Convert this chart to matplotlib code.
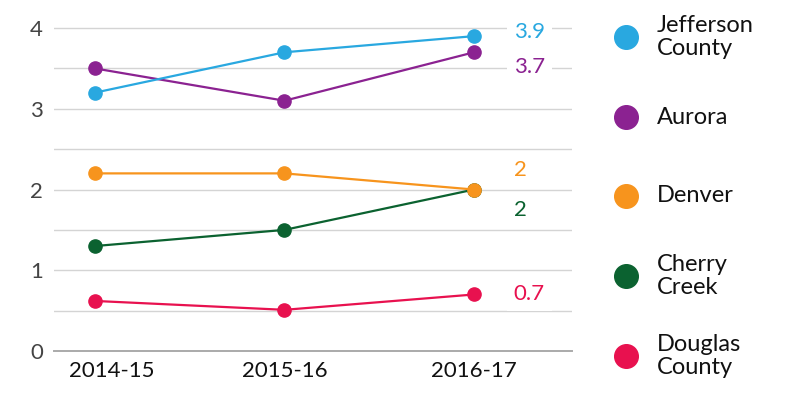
import matplotlib.pyplot as plt
from matplotlib.transforms import ScaledTranslation

plt.rcParams['font.family'] = ['Lato', 'DejaVu Sans']

seasons = ["2014-15", "2015-16", "2016-17"]
districts = ["Jefferson County", "Aurora", "Denver", "Cherry Creek", "Douglas County"]
legend_names = ["Jefferson\nCounty", "Aurora", "Denver", "Cherry\nCreek", "Douglas\nCounty"]
jefferson = [3.2, 3.7, 3.9]
aurora = [3.5, 3.1, 3.7]
denver = [2.2, 2.2, 2.0]
cherry_creek = [1.3, 1.5, 2.0]
douglas = [0.62, 0.51, 0.7]
series = [jefferson, aurora, denver, cherry_creek, douglas]
colors = ["#29a8e0", "#8b2291", "#f7941d", "#0b6230", "#e8114f"]
# end-label heights (nudged so they don't collide)
label_y = [3.95, 3.52, 2.24, 1.75, 0.70]

fig = plt.figure(figsize=(8, 3.99), dpi=100)
ax = fig.add_axes([0.0675, 0.1203, 0.6475, 0.8296])

x = list(range(len(seasons)))
for i, (vals, c, ly) in enumerate(zip(series, colors, label_y)):
    # first district drawn on top
    ax.plot(x, vals, color=c, lw=1.6, marker="o", ms=9.5, zorder=3 + (len(series) - i) * 0.1)
    ax.text(2.21, ly, f"{vals[-1]:g}", color=c, fontsize=16, va="center", ha="left",
            bbox=dict(facecolor="white", edgecolor="none", pad=5), zorder=4)

ax.set_xlim(-0.216, 2.517)
ax.set_ylim(0, 4.10)
ax.set_yticks([0, 1, 2, 3, 4])
ax.set_yticks([0.5, 1.5, 2.5, 3.5], minor=True)
ax.set_xticks(x)
ax.set_xticklabels(seasons)
ax.grid(True, axis="y", which="both", color="#d4d4d4", lw=1)
ax.set_axisbelow(True)
for s in ["top", "right", "left"]:
    ax.spines[s].set_visible(False)
ax.spines["bottom"].set_color("#aaaaaa")
ax.spines["bottom"].set_linewidth(1.4)
ax.tick_params(axis="y", which="both", length=0, pad=8, labelsize=16, labelcolor="#444444")
ax.tick_params(axis="x", length=0, pad=7, labelsize=16, labelcolor="#111111")
# first season label is pushed right, away from the edge
first = ax.get_xticklabels()[0]
first.set_transform(first.get_transform() + ScaledTranslation(0.17, 0, fig.dpi_scale_trans))

# legend
lax = fig.add_axes([0, 0, 1, 1])
lax.set_xlim(0, 800)
lax.set_ylim(399, 0)
lax.axis("off")
leg_y = [37, 117, 196, 276, 356]
for name, c, ly in zip(legend_names, colors, leg_y):
    lax.plot(626, ly, "o", color=c, ms=17)
    lax.text(657, ly, name, fontsize=17, color="#111111", va="center", ha="left",
             linespacing=1.15)

plt.savefig("out.png")
plt.close()
